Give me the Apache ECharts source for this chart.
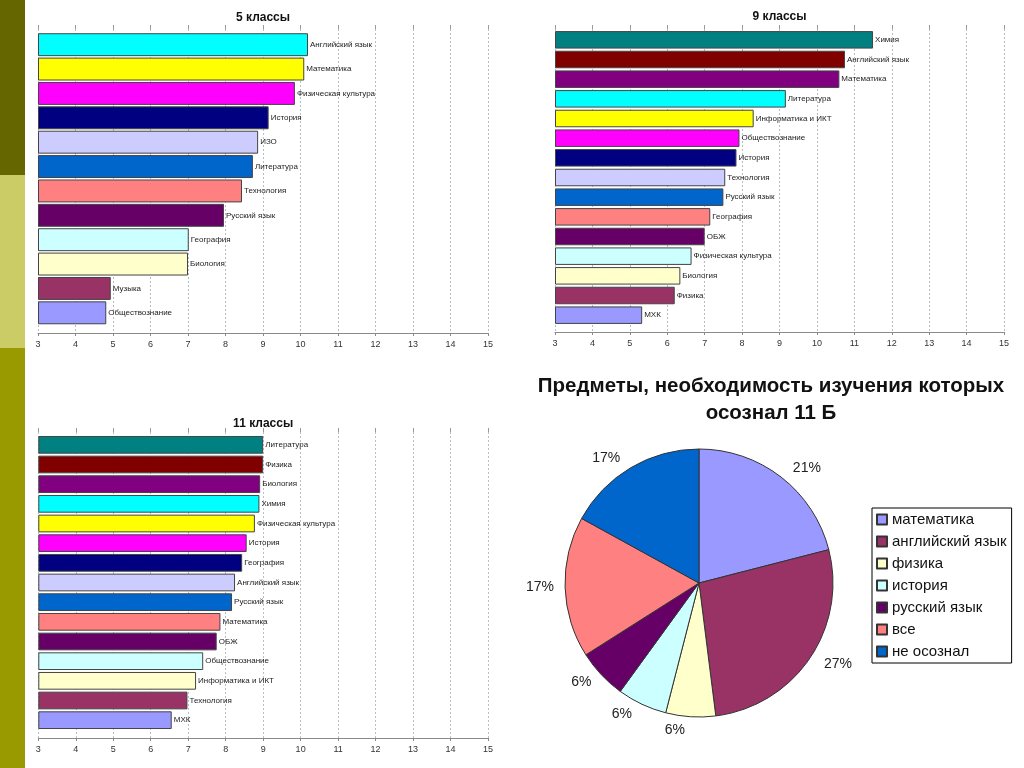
<!DOCTYPE html>
<html>
<head>
<meta charset="utf-8">
<script src="https://cdn.jsdelivr.net/npm/echarts@6/dist/echarts.min.js"></script>
<style>
html,body{margin:0;padding:0;background:#fff;}
#side1{position:absolute;left:0;top:0;width:25px;height:175px;background:#666600;}
#side2{position:absolute;left:0;top:175px;width:25px;height:173px;background:#cccc66;}
#side3{position:absolute;left:0;top:348px;width:25px;height:420px;background:#999900;}
#chart{position:absolute;left:0;top:0;width:1024px;height:768px;}
</style>
</head>
<body>
<div id="side1"></div><div id="side2"></div><div id="side3"></div>
<div id="chart"></div>
<script>
// ---- data ----
const fifthCats = ['Английский язык','Математика','Физическая культура','История','ИЗО','Литература','Технология','Русский язык','География','Биология','Музыка','Обществознание'];
const fifthVals = [10.2, 10.1, 9.85, 9.15, 8.87, 8.73, 8.44, 7.96, 7.02, 7.0, 4.94, 4.82];

const ninthCats = ['Химия','Английский язык','Математика','Литература','Информатика и ИКТ','Обществознание','История','Технология','Русский язык','География','ОБЖ','Физическая культура','Биология','Физика','МХК'];
const ninthVals = [11.5, 10.75, 10.6, 9.17, 8.31, 7.93, 7.85, 7.55, 7.5, 7.15, 7.0, 6.65, 6.35, 6.2, 5.33];

const eleventhCats = ['Литература','Физика','Биология','Химия','Физическая культура','История','География','Английский язык','Русский язык','Математика','ОБЖ','Обществознание','Информатика и ИКТ','Технология','МХК'];
const eleventhVals = [9.0, 9.0, 8.92, 8.9, 8.78, 8.56, 8.44, 8.25, 8.17, 7.86, 7.76, 7.4, 7.21, 6.98, 6.56];

const pieCats = ['математика','английский язык','физика','история','русский язык','все','не осознал'];
const pieVals = [21, 27, 6, 6, 6, 17, 17];

const barTitles = ['5 классы','9 классы','11 классы'];
const pieTitle = 'Предметы, необходимость изучения которых\nосознал 11 Б';
const axisMin = 3, axisMax = 15, axisStep = 1;

// ---- styles ----
const palette = ['#9999FF','#993366','#FFFFCC','#CCFFFF','#660066','#FF8080','#0066CC','#CCCCFF','#000080','#FF00FF','#FFFF00','#00FFFF','#800080','#800000','#008080'];
const FONT = 'Arial, "Liberation Sans", sans-serif';

const charts = [
  {cats: fifthCats, vals: fifthVals, title: barTitles[0],
   bars: {left: 38, width: 450, top: 32.5, height: 292.5, gap: '6%'},
   frame: {left: 38, width: 450, top: 25, height: 308}},
  {cats: ninthCats, vals: ninthVals, title: barTitles[1],
   bars: {left: 555, width: 449, top: 30, height: 295, gap: '11%'},
   frame: {left: 555, width: 449, top: 25, height: 307}},
  {cats: eleventhCats, vals: eleventhVals, title: barTitles[2],
   bars: {left: 38.3, width: 449.7, top: 435, height: 295, gap: '10%'},
   frame: {left: 38.3, width: 449.7, top: 428, height: 310}}
];
const titleTops = [12, 11, 418];

const grid = [], xAxis = [], yAxis = [], series = [], title = [];
charts.forEach((c, k) => {
  const gBar = grid.length;
  grid.push({left: c.bars.left, width: c.bars.width, top: c.bars.top, height: c.bars.height, containLabel: false});
  const gFrame = grid.length;
  grid.push({left: c.frame.left, width: c.frame.width, top: c.frame.top, height: c.frame.height, containLabel: false});

  const xBar = xAxis.length;
  xAxis.push({type: 'value', gridIndex: gBar, min: axisMin, max: axisMax, interval: axisStep, startValue: axisMin, show: false, splitLine: {show: false}});
  const yBar = yAxis.length;
  yAxis.push({type: 'category', gridIndex: gBar, data: c.cats, inverse: true, show: false});

  xAxis.push({type: 'value', gridIndex: gFrame, min: axisMin, max: axisMax, interval: axisStep, position: 'bottom',
    axisLine: {show: true, lineStyle: {color: '#8a8a8a', width: 1}},
    axisTick: {show: true, length: 3, lineStyle: {color: '#8a8a8a'}},
    axisLabel: {color: '#333', fontSize: 9, fontFamily: FONT, margin: 7},
    splitLine: {show: true, lineStyle: {color: '#b4bfcc', type: [2, 2], width: 1}}});
  xAxis.push({type: 'value', gridIndex: gFrame, min: axisMin, max: axisMax, interval: axisStep, position: 'top',
    axisLine: {show: false}, axisLabel: {show: false}, splitLine: {show: false},
    axisTick: {show: true, inside: true, length: 4, lineStyle: {color: '#999'}}});
  yAxis.push({type: 'value', gridIndex: gFrame, show: false, splitLine: {show: false}});

  const n = c.cats.length;
  series.push({
    type: 'bar', xAxisIndex: xBar, yAxisIndex: yBar,
    data: c.vals.map((v, i) => ({value: v, itemStyle: {color: palette[n - 1 - i]}})),
    barCategoryGap: c.bars.gap,
    itemStyle: {borderColor: '#444', borderWidth: 1},
    label: {show: true, position: 'right', distance: 2, formatter: p => p.name,
      fontSize: 8, color: '#222', fontFamily: FONT},
    emphasis: {disabled: true}, animation: false
  });

  title.push({text: c.title, left: c.frame.left + c.frame.width / 2, top: titleTops[k], textAlign: 'center', padding: 0,
    textStyle: {fontSize: 12, fontWeight: 'bold', color: '#111', fontFamily: FONT}});
});

title.push({text: pieTitle, left: 771, top: 373, textAlign: 'center', padding: 0,
  textStyle: {fontSize: 20.5, fontWeight: 'bold', color: '#111', fontFamily: FONT, lineHeight: 27}});

series.push({
  type: 'pie', center: [699, 583], radius: 134, startAngle: 90, clockwise: true,
  data: pieCats.map((name, i) => ({name, value: pieVals[i], itemStyle: {color: palette[i]}})),
  itemStyle: {borderColor: '#333', borderWidth: 1},
  label: {show: true, position: 'outside', formatter: p => p.value + '%', fontSize: 14, color: '#222', fontFamily: FONT},
  labelLine: {show: false, length: 11, length2: 0},
  emphasis: {disabled: true}, animation: false
});

const option = {
  animation: false,
  title,
  grid, xAxis, yAxis, series,
  legend: {
    data: pieCats, orient: 'vertical', left: 872, top: 508,
    borderColor: '#000', borderWidth: 1, padding: [4, 5, 4, 4],
    itemWidth: 10, itemHeight: 10, itemGap: 7, icon: 'rect',
    textStyle: {fontSize: 15, color: '#111', fontFamily: FONT, lineHeight: 15}
  }
};

const chart = echarts.init(document.getElementById('chart'), null, {renderer: 'canvas'});
chart.setOption(option);
</script>
</body>
</html>
